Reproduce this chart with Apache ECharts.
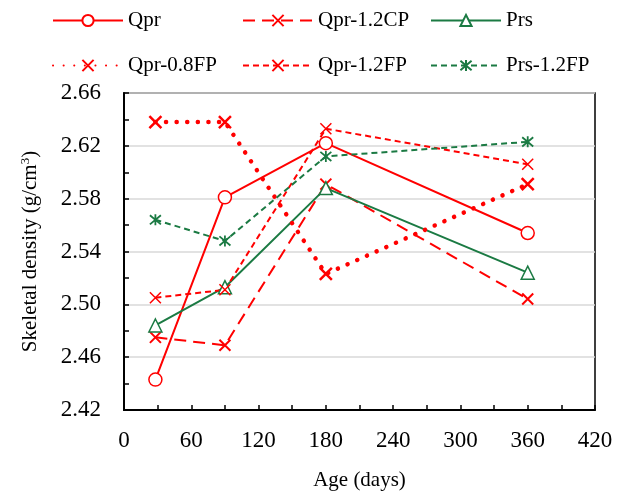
<!DOCTYPE html>
<html>
<head>
<meta charset="utf-8">
<script src="https://cdn.jsdelivr.net/npm/echarts@6/dist/echarts.min.js"></script>
<style>
  html, body { margin: 0; padding: 0; background: #fff; }
  #chart { width: 627px; height: 492px; }
</style>
</head>
<body>
<div id="chart"></div>
<script>
// ages (days)
const ages = [28, 90, 180, 360];
// skeletal density values
const qpr = [2.443, 2.581, 2.622, 2.554];
const qpr12CP = [2.475, 2.469, 2.591, 2.504];
const prs = [2.484, 2.513, 2.588, 2.524];
const qpr08FP = [2.638, 2.638, 2.523, 2.591];
const qpr12FP = [2.505, 2.511, 2.633, 2.606];
const prs12FP = [2.564, 2.548, 2.612, 2.623];

const RED = '#ff0000';
const GREEN = '#1b7a43';
const FONT = 'Liberation Serif';

const xMark = 'path://M0,0L10,10M10,0L0,10';
const starMark = 'path://M0,0L10,10M10,0L0,10M5,-1L5,11';

const pairs = (vals) => ages.map((a, i) => [a, vals[i]]);

// series definitions
const seriesList = [
  { name: 'Qpr', data: qpr, color: RED, type: 'solid', symbol: 'circle', size: 13, fill: '#fff', bw: 1.5, lw: 2 },
  { name: 'Qpr-1.2CP', data: qpr12CP, color: RED, type: [12, 7], symbol: xMark, size: 11, fill: RED, bw: 2, lw: 2 },
  { name: 'Prs', data: prs, color: GREEN, type: 'solid', symbol: 'triangle', size: 13, fill: '#fff', bw: 1.5, lw: 2 },
  { name: 'Qpr-0.8FP', data: qpr08FP, color: RED, type: [0.1, 10.5], cap: 'round', symbol: xMark, size: 12, fill: RED, bw: 2.5, lw: 4.5 },
  { name: 'Qpr-1.2FP', data: qpr12FP, color: RED, type: [6, 4], symbol: xMark, size: 11, fill: RED, bw: 1.5, lw: 2 },
  { name: 'Prs-1.2FP', data: prs12FP, color: GREEN, type: [6, 4], symbol: starMark, size: 11, fill: GREEN, bw: 1.8, lw: 2 }
];

// legend placement (two rows of three)
const legendPos = [
  { left: 47, top: 5 }, { left: 237, top: 5 }, { left: 425, top: 5 },
  { left: 47, top: 50 }, { left: 237, top: 50 }, { left: 425, top: 50 }
];

const chart = echarts.init(document.getElementById('chart'));

const option = {
  backgroundColor: '#fff',
  animation: false,
  textStyle: { fontFamily: FONT },
  legend: seriesList.map((s, i) => ({
    data: [s.name],
    left: legendPos[i].left,
    top: legendPos[i].top,
    itemWidth: 70,
    itemHeight: 14,
    textStyle: { fontFamily: FONT, fontSize: 21, color: '#000' },
    selectedMode: false
  })),
  grid: {
    left: 124, right: 32, top: 93, bottom: 82,
    outerBoundsMode: 'none',
    containLabel: false,
    show: true, borderColor: '#000', borderWidth: 1.5
  },
  xAxis: {
    type: 'value',
    min: 0, max: 420, interval: 60,
    name: 'Age (days)',
    nameLocation: 'middle',
    nameGap: 60,
    nameTextStyle: { fontFamily: FONT, fontSize: 21, color: '#000' },
    axisLine: { lineStyle: { color: '#000', width: 2 } },
    axisTick: { inside: true, length: 5, lineStyle: { color: '#000', width: 1.5 } },
    minorTick: { show: true, splitNumber: 2, length: 5, lineStyle: { color: '#000', width: 1.5 } },
    axisLabel: { fontFamily: FONT, fontSize: 23, color: '#000', margin: 19 },
    splitLine: { show: false }
  },
  yAxis: {
    type: 'value',
    min: 2.42, max: 2.66, interval: 0.04,
    name: 'Skeletal density (g/cm{sup|3})',
    nameLocation: 'middle',
    nameGap: 82,
    nameTextStyle: {
      fontFamily: FONT, fontSize: 21, color: '#000',
      rich: { sup: { fontFamily: FONT, fontSize: 13, color: '#000', verticalAlign: 'top', padding: [0, 0, 10, 0] } }
    },
    axisLine: { lineStyle: { color: '#000', width: 2 } },
    axisTick: { inside: true, length: 5, lineStyle: { color: '#000', width: 1.5 } },
    minorTick: { show: true, splitNumber: 2, length: 5, lineStyle: { color: '#000', width: 1.5 } },
    axisLabel: {
      fontFamily: FONT, fontSize: 23, color: '#000', margin: 23,
      formatter: (v) => v.toFixed(2)
    },
    splitLine: { show: true, lineStyle: { color: '#d9d9d9', width: 1.5 } }
  },
  series: seriesList.map((s) => ({
    name: s.name,
    type: 'line',
    data: pairs(s.data),
    symbol: s.symbol,
    symbolSize: s.size,
    showAllSymbol: true,
    lineStyle: { color: s.color, width: s.lw, type: s.type, cap: s.cap || 'butt' },
    itemStyle: { color: s.fill, borderColor: s.color, borderWidth: s.bw },
    emphasis: { disabled: true }
  }))
};

chart.setOption(option);
</script>
</body>
</html>
